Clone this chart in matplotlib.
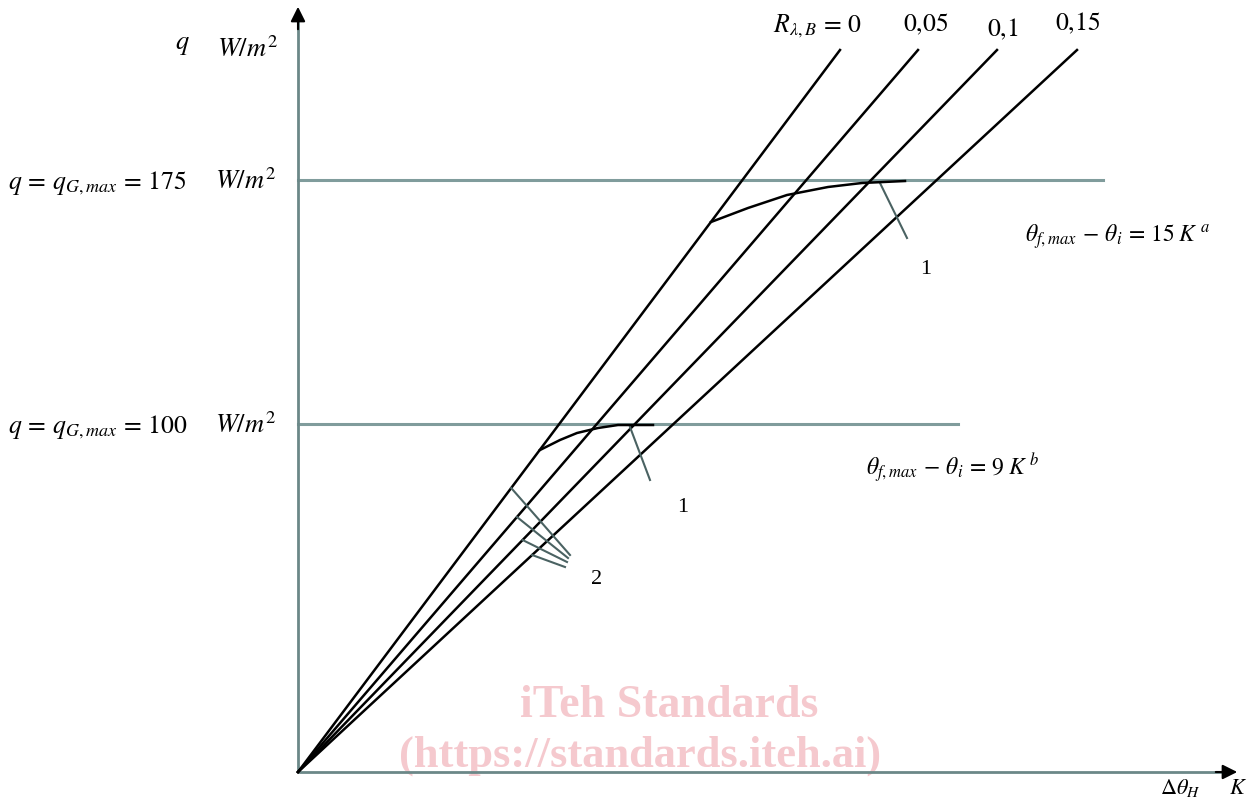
import numpy as np
import matplotlib
matplotlib.use('Agg')
import matplotlib.pyplot as plt

plt.rcParams['mathtext.fontset'] = 'stix'
plt.rcParams['font.family'] = ['Liberation Serif', 'DejaVu Serif']

# schematic coordinates: origin of the diagram at (0, 0), units = pixels of the sheet
R_labels = ['0', '0{,}05', '0{,}1', '0{,}15']
line_top_x = [542, 620, 699, 779]      # where each R line leaves the sheet
line_top_y = 722

q_levels = [592, 348]                  # q = 175 and q = 100
q_values = ['175', '100']
q_line_end = [805, 660]

# curve "1" (reached limit theta_f,max - theta_i)
curve_hi_x = [413, 450, 489, 530, 564, 607]
curve_hi_y = [550, 564, 577, 585, 589, 591]
curve_lo_x = [242, 262, 279, 300, 320, 355]
curve_lo_y = [322, 332, 339, 344, 347, 347]

# leaders for label "2": start height on each R line, end point
lead2_start_y = [284, 255, 232, 217]
lead2_end_x = [272, 270, 269, 267]
lead2_end_y = [217, 214, 210, 205]

axis_col = '#6b8888'
hline_col = '#809c9c'

fig = plt.figure(figsize=(12.52, 7.98), dpi=100)
ax = fig.add_axes([0, 0, 1, 1])
ax.set_xlim(-298, 954)
ax.set_ylim(-26, 772)
ax.axis('off')

# axes with arrows
ax.plot([0, 0], [0, 755], color=axis_col, lw=2, solid_capstyle='butt')
ax.plot([0, 925], [0, 0], color=axis_col, lw=2, solid_capstyle='butt')
ax.annotate('', xy=(0, 768), xytext=(0, 740),
            arrowprops=dict(arrowstyle='-|>', color='black', lw=1.5, mutation_scale=22))
ax.annotate('', xy=(942, 0), xytext=(915, 0),
            arrowprops=dict(arrowstyle='-|>', color='black', lw=1.5, mutation_scale=22))

# horizontal limits
for lev, xe in zip(q_levels, q_line_end):
    ax.plot([0, xe], [lev, lev], color=hline_col, lw=2.2, zorder=1)

# R lines from origin
for xt in line_top_x:
    ax.plot([0, xt], [0, line_top_y], color='black', lw=1.8, zorder=2)

ax.plot(curve_hi_x, curve_hi_y, color='black', lw=1.8, zorder=3)
ax.plot(curve_lo_x, curve_lo_y, color='black', lw=1.8, zorder=3)

# leaders "1"
ax.plot([582, 609], [589, 534], color='#4a6262', lw=1.5)
ax.plot([332, 352], [345, 292], color='#4a6262', lw=1.5)
ax.text(628, 502, '1', fontsize=16, ha='center', va='center')
ax.text(385, 264, '1', fontsize=16, ha='center', va='center')

# leaders "2"
for xt, ys, xe, ye in zip(line_top_x, lead2_start_y, lead2_end_x, lead2_end_y):
    xs = ys * xt / line_top_y
    ax.plot([xs, xe], [ys, ye], color='#4a6262', lw=1.5)
ax.text(299, 192, '2', fontsize=16, ha='center', va='center')

# texts
ax.text(-116, 726, '$q$', fontsize=19, ha='center', va='center')
ax.text(-51, 723, '$W/m^2$', fontsize=19, ha='center', va='center')
for lev, val in zip(q_levels, q_values):
    ax.text(-290, lev - 3, '$q\\,=\\,q_{G,max}\\,=\\,%s$' % val, fontsize=18.5, ha='left', va='center')
    ax.text(-83, lev - 1, '$W/m^2$', fontsize=19, ha='left', va='center')

ax.text(475, 746, '$R_{\\lambda,B}\\,=\\,0$', fontsize=18.5, ha='left', va='center')
top_lab_x = [628, 705, 780]
top_lab_y = [748, 743, 749]
for lab, xx, yy in zip(R_labels[1:], top_lab_x, top_lab_y):
    ax.text(xx, yy, '$%s$' % lab, fontsize=18.5, ha='center', va='center')

ax.text(727, 535, '$\\theta_{f,max}\\,-\\,\\theta_i\\,=\\,15\\;K^{\\;a}$', fontsize=17, ha='left', va='center')
ax.text(568, 304, '$\\theta_{f,max}\\,-\\,\\theta_i\\,=\\,9\\;K^{\\;b}$', fontsize=17, ha='left', va='center')

ax.text(882, -16, '$\\Delta\\theta_H$', fontsize=16, ha='center', va='center')
ax.text(940, -18, '$K$', fontsize=16, ha='center', va='center')

# watermark
ax.text(371, 66, 'iTeh Standards', fontsize=33, fontweight='bold', color='#f5c9ce',
        ha='center', va='center', zorder=0)
ax.text(342, 16, '(https://standards.iteh.ai)', fontsize=32, fontweight='bold', color='#f5c9ce',
        ha='center', va='center', zorder=0)

fig.savefig('out.png', dpi=100)
